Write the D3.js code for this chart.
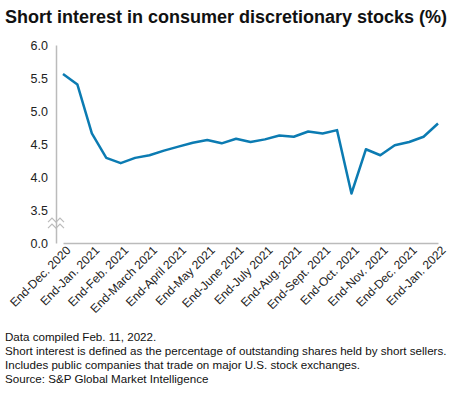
<!DOCTYPE html>
<html>
<head>
<meta charset="utf-8">
<script src="https://cdn.jsdelivr.net/npm/d3@7"></script>
<style>
  body { margin: 0; background: #fff; }
  svg { display: block; font-family: "Liberation Sans", Arial, sans-serif; }
</style>
</head>
<body>
<script>
// semi-monthly readings, labelled once a month
var months = ["End-Dec. 2020", "End-Jan. 2021", "End-Feb. 2021", "End-March 2021",
  "End-April 2021", "End-May 2021", "End-June 2021", "End-July 2021", "End-Aug. 2021",
  "End-Sept. 2021", "End-Oct. 2021", "End-Nov. 2021", "End-Dec. 2021", "End-Jan. 2022"];

var values = [5.56, 5.40, 4.66, 4.29, 4.21, 4.29, 4.33, 4.40, 4.46, 4.52, 4.56, 4.51,
  4.58, 4.53, 4.57, 4.63, 4.61, 4.69, 4.66, 4.71, 3.75, 4.42, 4.33, 4.48, 4.53, 4.61, 4.81];

var yTicks = [3.0, 3.5, 4.0, 4.5, 5.0, 5.5, 6.0];

var notes = ["Data compiled Feb. 11, 2022.",
  "Short interest is defined as the percentage of outstanding shares held by short sellers.",
  "Includes public companies that trade on major U.S. stock exchanges.",
  "Source: S&P Global Market Intelligence"];

var margin = {top: 45, right: 5, bottom: 152, left: 56},
    width = 450 - margin.left - margin.right,
    height = 395 - margin.top - margin.bottom;

var svg = d3.select("body").append("svg")
    .attr("width", 450)
    .attr("height", 395);

svg.append("text")
    .attr("x", 5)
    .attr("y", 23)
    .style("font-size", "18px")
    .style("font-weight", "bold")
    .style("fill", "#111")
    .text("Short interest in consumer discretionary stocks (%)");

var g = svg.append("g")
    .attr("transform", "translate(" + margin.left + "," + margin.top + ")");

var x = d3.scaleLinear()
    .domain([0, values.length - 1])
    .range([7, 382]);

// axis is broken: the bottom tick stands for zero
var y = d3.scaleLinear()
    .domain([3, 6])
    .range([height, 0]);

var yAxis = g.append("g")
    .call(d3.axisLeft(y).tickValues(yTicks).tickSize(0).tickPadding(8)
      .tickFormat(function(d) { return d === 3 ? "0.0" : d3.format(".1f")(d); }));
yAxis.select(".domain").attr("stroke", "#bbb").attr("stroke-width", 1.5);
yAxis.selectAll("text").style("font-size", "12.5px").style("fill", "#222")
    .style("font-family", "Liberation Sans, Arial, sans-serif");

var xAxis = g.append("g")
    .attr("transform", "translate(0," + height + ")")
    .call(d3.axisBottom(x).tickValues(months.map(function(d, i) { return i * 2; }))
      .tickSize(0).tickFormat(function(d) { return months[d / 2]; }));
xAxis.select(".domain").attr("stroke", "#bbb").attr("stroke-width", 1.5);
xAxis.selectAll("text")
    .attr("y", 0)
    .attr("x", 0)
    .attr("dy", "0")
    .attr("transform", "translate(8,8) rotate(-45)")
    .style("text-anchor", "end")
    .style("font-size", "12px")
    .style("fill", "#222")
    .style("font-family", "Liberation Sans, Arial, sans-serif");

// break marks on the y axis
var by = y(3.3);
[-3, 3].forEach(function(off) {
  g.append("path")
    .attr("d", "M-8," + (by + off + 2) + " L-4," + (by + off - 2) + " L0," + (by + off + 2) +
          " L4," + (by + off - 2) + " L8," + (by + off + 2))
    .attr("fill", "none")
    .attr("stroke", "#bbb")
    .attr("stroke-width", 1.2);
});

var line = d3.line()
    .x(function(d, i) { return x(i); })
    .y(function(d) { return y(d); });

g.append("path")
    .datum(values)
    .attr("fill", "none")
    .attr("stroke", "#0b7bb2")
    .attr("stroke-width", 2.5)
    .attr("stroke-linejoin", "round")
    .attr("d", line);

svg.append("g").selectAll("text")
    .data(notes)
    .enter().append("text")
    .attr("x", 5)
    .attr("y", function(d, i) { return 341 + i * 14; })
    .style("font-size", "11.6px")
    .style("fill", "#111")
    .text(function(d) { return d; });
</script>
</body>
</html>
